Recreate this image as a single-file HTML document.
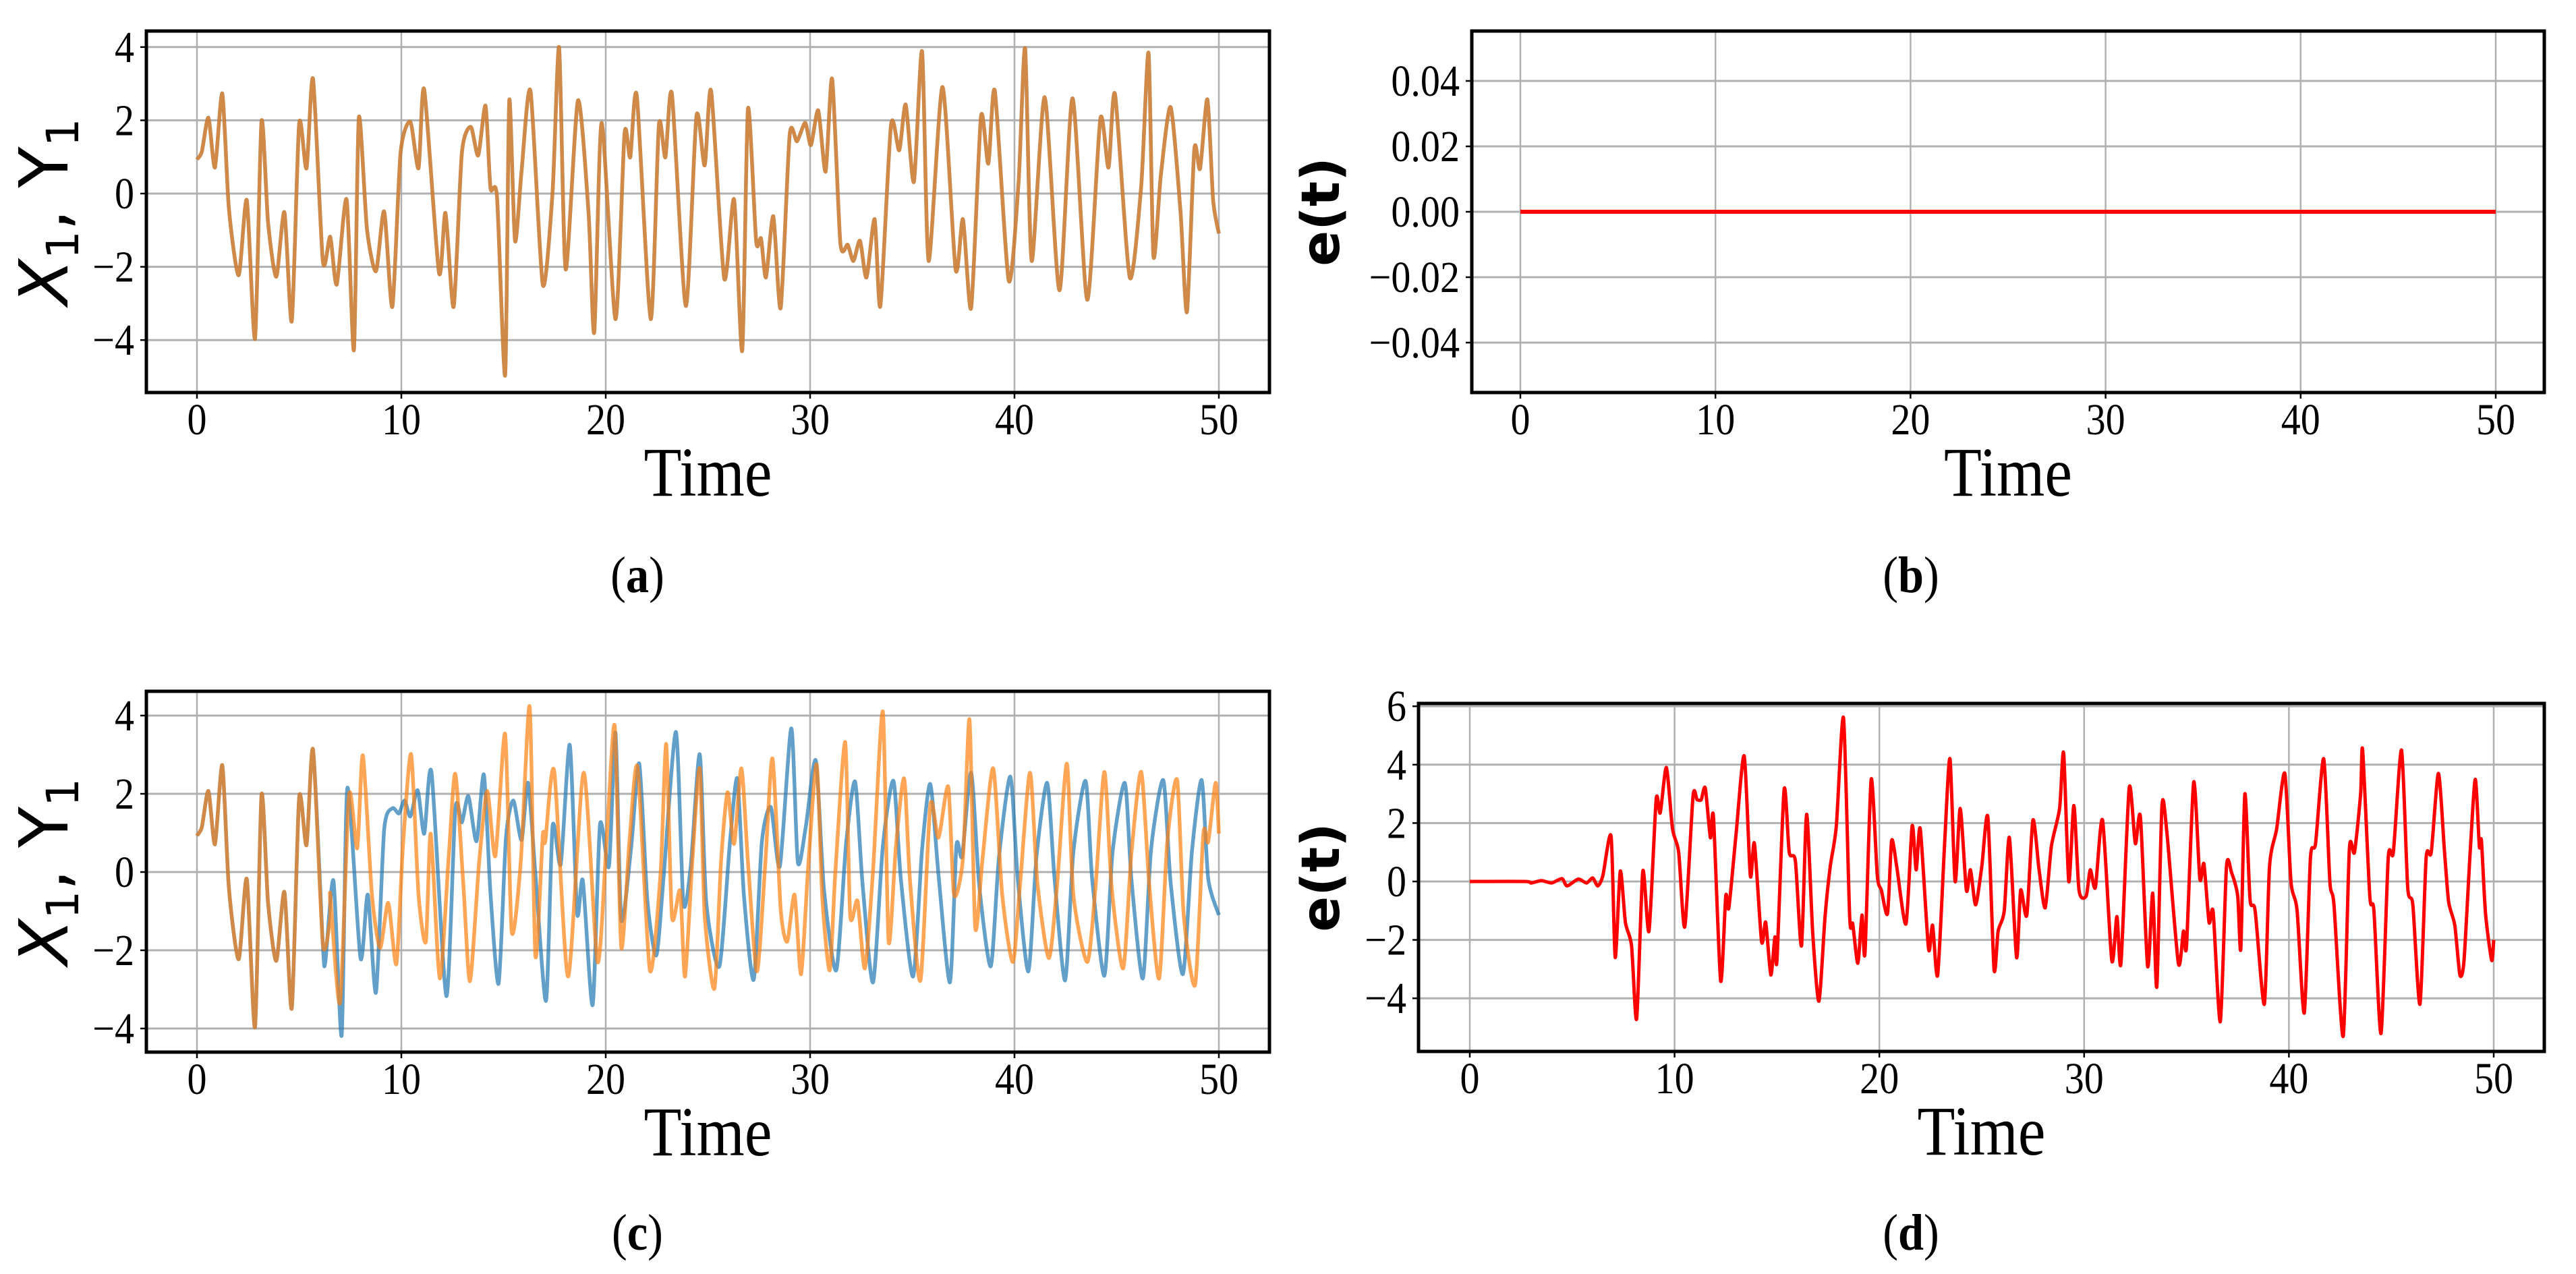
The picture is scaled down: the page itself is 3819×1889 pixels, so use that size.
<!DOCTYPE html>
<html><head><meta charset="utf-8"><style>
html,body{margin:0;padding:0;background:#fff;}
svg{display:block;}
text{font-family:"Liberation Serif",serif;}
</style></head><body>
<svg id="fig" width="3819" height="1889" viewBox="0 0 3819 1889" xmlns="http://www.w3.org/2000/svg"></svg>
<script>
// ---- data ----
const xTicks = [0,10,20,30,40,50];
const yTicksA = [-4,-2,0,2,4];
const yTicksB = [-0.04,-0.02,0,0.02,0.04];
const yTicksB_labels = ["\u22120.04","\u22120.02","0.00","0.02","0.04"];
const yTicksD = [-4,-2,0,2,4,6];

// panel (a): synchronized X1 = Y1
const tA = [0,0.24,0.56,0.88,1.24,1.56,2.04,2.44,2.84,3.16,3.48,3.88,4.28,4.64,5.0,5.36,5.68,6.16,6.52,6.84,7.32,7.68,7.92,8.32,8.76,9.16,9.56,9.96,10.44,10.84,11.12,11.84,12.16,12.56,12.96,13.4,13.76,14.12,14.36,14.68,15.08,15.28,15.56,15.88,16.32,16.92,17.4,17.72,18.04,18.64,19.16,19.44,19.8,20.48,20.92,21.2,21.52,22.2,22.6,22.92,23.24,23.92,24.44,24.84,25.16,25.8,26.28,26.68,26.96,27.36,27.6,27.84,28.2,28.56,29.0,29.36,29.76,30.04,30.4,30.76,31.08,31.48,31.84,32.12,32.44,32.76,33.16,33.44,33.96,34.36,34.68,35.08,35.48,35.8,36.48,37.12,37.48,37.88,38.36,38.72,39.04,39.72,40.2,40.52,40.84,41.48,42.2,42.84,43.56,44.2,44.6,44.92,45.64,46.2,46.56,46.8,47.16,47.64,48.12,48.44,48.8,49.08,49.44,49.72,50];
const vA = [0.93,1.15,2.07,0.71,2.73,-0.4,-2.23,-0.18,-3.96,1.97,-0.79,-2.27,-0.51,-3.48,1.91,0.69,3.13,-1.84,-1.18,-2.48,-0.16,-4.27,2.07,-0.98,-2.12,-0.49,-3.09,1.1,1.96,0.69,2.84,-2.16,-0.53,-3.09,1.1,1.82,1.04,2.4,0.16,-0.09,-4.96,2.54,-1.29,0.6,2.8,-2.49,0.04,3.99,-2.07,2.54,-0.51,-3.79,1.93,-3.43,1.64,0.99,2.67,-3.43,1.87,0.99,2.71,-3.07,2.12,0.77,2.8,-2.32,-0.16,-4.29,2.32,-1.29,-1.23,-2.29,-0.62,-3.12,1.6,1.43,1.93,1.32,2.27,0.6,3.13,-1.34,-1.4,-1.84,-1.29,-2.29,-0.7,-3.07,1.88,1.18,2.43,0.32,3.88,-1.84,2.91,-2.07,-0.7,-3.12,2.1,0.82,2.8,-2.38,0.32,3.96,-1.84,2.63,-2.64,2.6,-2.9,2.04,0.71,2.71,-2.29,0.21,3.84,-1.71,0.49,2.36,-0.46,-3.23,1.21,0.68,2.57,-0.18,-1.09];

// panel (c): X1 (blue) after divergence
const tX = [6.28,6.68,7.08,7.36,8.0,8.36,8.76,9.16,9.56,9.88,10.16,10.44,10.8,11.12,11.48,12.2,12.64,12.96,13.28,13.68,14.04,14.36,14.76,15.12,15.48,15.88,16.2,16.56,17.08,17.4,17.8,18.24,18.6,18.88,19.36,19.72,20.16,20.48,20.76,21.24,21.64,22.04,22.48,22.84,23.44,23.8,24.16,24.6,24.92,25.56,26.08,26.44,26.76,27.24,27.64,28.08,28.52,29.08,29.4,29.8,30.28,30.68,31.28,31.76,32.2,32.56,33.08,33.56,34.08,34.44,35.04,35.48,35.88,36.28,36.84,37.16,37.44,37.88,38.28,38.84,39.24,39.8,40.16,40.68,41.08,41.6,41.96,42.48,42.88,43.48,43.8,44.4,44.8,45.4,45.72,46.28,46.68,47.28,47.64,48.24,48.68,49.16,49.48,50];
const vX = [-2.3,-0.22,-4.18,2.15,-2.2,-0.58,-3.08,1.08,1.63,1.5,1.83,1.42,2.09,0.98,2.54,-3.17,1.6,1.27,1.94,0.79,2.49,-0.53,-2.85,0.88,1.83,0.82,2.28,-0.06,-3.29,1.17,0.2,3.25,-1.05,-0.22,-3.4,1.21,0.15,3.56,-1.21,0.61,2.77,-0.74,-2.13,-0.06,3.58,-0.79,0.15,3.01,-0.79,-2.41,0.77,2.39,-0.58,-2.75,0.77,1.66,0.15,3.67,0.25,1.19,2.85,-0.46,-2.51,0.72,2.31,-0.27,-2.82,0.67,2.33,-0.17,-2.67,0.58,2.25,-0.06,-2.82,0.67,0.41,2.54,-0.37,-2.41,0.38,2.44,-0.17,-2.54,0.41,2.28,-0.17,-2.77,0.51,2.33,-0.17,-2.65,0.51,2.28,-0.17,-2.72,0.56,2.35,-0.27,-2.61,0.51,2.35,-0.17,-1.1];

// panel (c): Y1 (orange) after divergence
const tY = [6.52,7.0,7.44,7.84,8.12,8.56,8.96,9.36,9.76,10.08,10.48,10.84,11.2,11.44,11.88,12.32,12.64,13.04,13.36,13.8,14.2,14.6,15.08,15.4,15.84,16.28,16.56,16.92,17.04,17.48,18.16,18.92,19.6,20.04,20.44,20.76,21.16,21.56,22.16,22.68,22.96,23.24,23.64,23.88,24.24,24.6,24.84,25.32,25.64,25.96,26.28,26.64,26.96,27.4,27.8,28.16,28.56,28.88,29.24,29.56,29.92,30.32,30.6,30.96,31.24,31.72,31.96,32.32,32.68,33.08,33.56,33.84,34.2,34.6,34.88,35.4,35.88,36.28,36.76,37.04,37.48,37.8,38.08,38.44,38.96,39.4,39.92,40.28,40.76,41.12,41.68,42.08,42.56,42.88,43.56,43.96,44.4,44.76,45.32,45.72,46.2,46.6,47.08,47.48,47.96,48.28,48.84,49.24,49.48,49.84,50];
const vY = [-0.58,-3.34,1.97,0.61,2.98,-0.58,-1.94,-0.79,-2.35,0.67,3.01,-0.58,-1.78,0.98,-2.72,0.41,2.51,-0.37,-2.79,0.2,2.07,0.41,3.53,-1.52,0.25,4.23,-2.15,0.93,0.77,2.59,-2.67,2.54,-2.3,0.77,3.74,-1.92,0.77,2.67,-2.51,-0.06,3.27,-1.14,-0.48,-2.67,0.3,2.65,-1.1,-2.98,0.25,2.04,0.72,2.65,0.25,-2.54,0.15,2.9,-0.95,-1.78,-0.58,-2.61,0.25,2.75,-0.69,-2.51,0.04,3.32,-1.1,-0.74,-2.46,0.04,4.1,-1.78,0.67,2.39,-0.17,-2.77,1.71,0.88,2.18,-0.58,0.35,3.9,-1.42,0.35,2.65,-0.58,-2.3,-0.27,2.54,-0.27,-2.2,-0.37,2.77,-0.58,-2.3,-0.42,2.56,-0.42,-2.46,0.46,2.56,-0.37,-2.72,0.79,2.35,-1.1,-2.88,0.98,0.77,2.28,0.98];

// panel (d): error
const tD = [0,2.7,3.0,3.5,4.0,4.5,4.75,5.3,5.7,6.0,6.25,6.5,6.9,7.1,7.35,7.6,7.9,8.15,8.45,8.75,9.1,9.3,9.6,9.9,10.2,10.5,10.9,11.1,11.3,11.5,11.75,11.9,12.25,12.5,12.65,13.0,13.4,13.7,13.9,14.25,14.45,14.7,14.9,15.0,15.35,15.6,15.9,16.2,16.45,16.75,17.05,17.35,17.6,17.9,18.25,18.55,18.7,18.95,19.15,19.3,19.6,19.9,20.1,20.4,20.6,20.85,21.3,21.6,21.8,22.0,22.4,22.6,22.85,23.2,23.45,23.7,23.95,24.25,24.45,24.7,25.0,25.3,25.6,25.8,26.1,26.35,26.7,26.9,27.2,27.5,27.8,28.1,28.4,28.8,29.0,29.25,29.5,29.75,30.1,30.3,30.55,30.9,31.35,31.6,31.8,32.2,32.5,32.75,33.1,33.35,33.55,33.8,34.05,34.6,34.85,35.0,35.35,35.65,35.85,36.1,36.3,36.65,36.95,37.2,37.5,37.65,37.85,38.1,38.35,38.8,39.05,39.4,39.8,40.1,40.4,40.75,41.05,41.3,41.7,42.0,42.2,42.65,42.95,43.2,43.5,43.6,43.95,44.15,44.5,44.85,45.1,45.5,45.8,46.05,46.4,46.7,46.95,47.3,47.6,47.8,48.1,48.35,48.55,48.85,49.1,49.3,49.4,49.6,49.9,50.0];
const vD = [0,0,-0.05,0.03,-0.05,0.1,-0.15,0.08,-0.05,0.12,-0.15,0.2,1.55,-2.6,0.35,-1.4,-2.2,-4.7,0.35,-1.7,2.8,2.35,3.9,1.8,1.0,-1.55,2.9,2.8,2.8,3.2,1.5,2.2,-3.4,-0.5,-0.9,1.6,4.3,0.2,1.3,-2.05,-1.4,-3.2,-1.9,-2.7,3.15,1.0,0.7,-2.2,2.3,-1.8,-4.1,-1.2,0.5,1.9,5.6,-1.2,-1.45,-2.8,-1.15,-2.45,3.5,0.2,-0.3,-1.1,1.4,0.5,-1.45,1.9,0.4,1.8,-2.3,-1.5,-3.2,1.5,4.2,0.0,2.5,-0.3,0.4,-0.8,0.5,2.2,-3.0,-1.7,-1.0,1.5,-2.6,-0.3,-1.15,2.1,0.4,-0.9,1.2,2.5,4.4,0.0,2.6,-0.3,-0.5,0.4,-0.2,2.1,-2.7,-1.2,-2.8,3.2,1.3,2.2,-2.9,-0.4,-3.6,2.6,1.6,-2.8,-1.7,-2.2,3.4,0.1,0.6,-1.4,-1.05,-4.8,0.5,0.3,-0.5,-2.3,3.0,-0.6,-1.0,-4.2,0.5,1.8,3.7,0.0,-1.0,-4.5,0.8,1.3,4.2,0.0,-0.8,-5.3,1.1,1.0,3.0,4.5,-0.5,-1.0,-5.2,0.8,1.0,4.5,-0.2,-0.8,-4.2,0.8,1.0,3.7,1.0,-0.7,-1.5,-3.2,-2.7,1.0,3.5,1.2,1.4,-1.1,-2.7,-2.0];

// ---- drawing ----
const NS = "http://www.w3.org/2000/svg";
const svg = document.getElementById('fig');
function mk(tag, attrs, parent){
  const e = document.createElementNS(NS, tag);
  for (const k in attrs) e.setAttribute(k, attrs[k]);
  (parent||svg).appendChild(e);
  return e;
}
function smoothPath(xs, ys){
  let d = 'M' + xs[0].toFixed(1) + ',' + ys[0].toFixed(1);
  for (let i=0;i<xs.length-1;i++){
    const x0 = xs[Math.max(i-1,0)], y0 = ys[Math.max(i-1,0)];
    const x1 = xs[i], y1 = ys[i], x2 = xs[i+1], y2 = ys[i+1];
    const x3 = xs[Math.min(i+2,xs.length-1)], y3 = ys[Math.min(i+2,ys.length-1)];
    const k = 0.12;
    const c1x = x1 + (x2-x0)*k, c1y = y1 + (y2-y0)*k;
    const c2x = x2 - (x3-x1)*k, c2y = y2 - (y3-y1)*k;
    d += 'C' + c1x.toFixed(1)+','+c1y.toFixed(1)+' '+c2x.toFixed(1)+','+c2y.toFixed(1)+' '+x2.toFixed(1)+','+y2.toFixed(1);
  }
  return d;
}
function panel(cfg){
  const g = mk('g', {});
  
  
  const sx = t => cfg.x0 + (t - 0) / 50 * (cfg.x50 - cfg.x0);
  const sy = v => cfg.yz - v * cfg.ppu;
  xTicks.forEach(t => {
    const l = mk('line', {x1:sx(t), x2:sx(t), y1:cfg.top, y2:cfg.bot, stroke:'#b0b0b0', 'stroke-width':2.5}, g);
    
    
  });
  cfg.yt.forEach(v => {
    const l = mk('line', {x1:cfg.left, x2:cfg.right, y1:sy(v), y2:sy(v), stroke:'#b0b0b0', 'stroke-width':3}, g);
    
    
  });
  cfg.series.forEach(s => {
    const xs = s.t.map(sx), ys = s.v.map(sy);
    const p = mk('path', {d:smoothPath(xs, ys), fill:'none', stroke:s.color, 'stroke-width':s.w||5.5, 'stroke-opacity':s.op||1, 'stroke-linejoin':'round', 'stroke-linecap':'butt'}, g);
    
    
  });
  const r = mk('rect', {x:cfg.left, y:cfg.top, width:cfg.right-cfg.left, height:cfg.bot-cfg.top, fill:'none', stroke:'#000', 'stroke-width':5}, g);
  
  
  xTicks.forEach(t => {
    mk('line', {x1:sx(t), x2:sx(t), y1:cfg.bot, y2:cfg.bot+9, stroke:'#000', 'stroke-width':2.5}, g);
    const tx = mk('text', {x:0, y:0, 'text-anchor':'middle', 'font-size':66, transform:'translate('+sx(t)+','+(cfg.bot+62)+') scale(0.88,1)'}, g);
    
    
    tx.textContent = String(t);
  });
  cfg.yt.forEach((v,i) => {
    mk('line', {x1:cfg.left-9, x2:cfg.left, y1:sy(v), y2:sy(v), stroke:'#000', 'stroke-width':2.5}, g);
    const tx = mk('text', {x:0, y:0, 'text-anchor':'end', 'font-size':66, transform:'translate('+(cfg.left-18)+','+(sy(v)+22)+') scale(0.88,1)'}, g);
    
    
    tx.textContent = cfg.ylab ? cfg.ylab[i] : (v<0 ? '\u2212'+Math.abs(v) : String(v));
  });
  const xl = mk('text', {x:0, y:0, 'text-anchor':'middle', 'font-size':104, transform:'translate('+((cfg.left+cfg.right)/2)+','+(cfg.bot+153)+') scale(0.88,1)'}, g);
  
  
  xl.textContent = 'Time';
  const yl = mk('text', {x:0, y:0, 'text-anchor':'middle', transform:'translate('+cfg.ylx+','+((cfg.top+cfg.bot)/2)+') rotate(-90)', 'font-size':cfg.ylfs, 'font-weight':cfg.ylbold?'bold':'normal', style:'font-family:"DejaVu Sans",sans-serif;'+(cfg.ylit?'font-style:italic;':'')}, g);
  
  
  yl.innerHTML = cfg.ylHTML;
  const cap = mk('text', {x:0, y:0, 'text-anchor':'middle', 'font-size':76, transform:'translate('+cfg.capx+','+cfg.capy+') scale(0.9,1)'}, g);
  
  
  cap.innerHTML = '(<tspan font-weight="bold">'+cfg.cap+'</tspan>)';
}
const XY = '<tspan>X</tspan><tspan font-size="66" font-style="normal" dy="16">1</tspan><tspan dy="-16" font-style="normal">, Y</tspan><tspan font-size="66" font-style="normal" dy="16">1</tspan>';
const ORA = '#ff7f0e', BLU = '#1f77b4';
panel({name:'panel-a', left:217, right:1882, top:46, bot:582, x0:292, x50:1807, yz:287, ppu:54.3, yt:yTicksA,
  series:[{t:tA,v:vA,color:BLU,op:0.7,name:'x1-line'},{t:tA,v:vA,color:ORA,op:0.7,name:'y1-line'}],
  ylx:100, ylfs:100, ylit:true, ylHTML:XY, cap:'a', capx:945, capy:878});
panel({name:'panel-b', left:2182, right:3772, top:46, bot:582, x0:2254, x50:3700, yz:314, ppu:4850, yt:yTicksB, ylab:yTicksB_labels,
  series:[{t:[0,50],v:[0,0],color:'#ff0000',w:6,name:'error-line'}],
  ylx:1985, ylfs:78, ylbold:true, ylHTML:'e(t)', cap:'b', capx:2833, capy:878});
panel({name:'panel-c', left:217, right:1882, top:1025, bot:1560, x0:292, x50:1807, yz:1293, ppu:58, yt:yTicksA,
  series:[{t:tA.slice(0,18).concat(tX),v:vA.slice(0,18).concat(vX),color:BLU,op:0.7,name:'x1-line'},
          {t:tA.slice(0,19).concat(tY),v:vA.slice(0,19).concat(vY),color:ORA,op:0.7,name:'y1-line'}],
  ylx:100, ylfs:100, ylit:true, ylHTML:XY, cap:'c', capx:945, capy:1853});
panel({name:'panel-d', left:2103, right:3772, top:1043, bot:1559, x0:2179, x50:3697, yz:1307, ppu:43.3, yt:yTicksD,
  series:[{t:tD,v:vD,color:'#ff0000',w:5,name:'error-line'}],
  ylx:1985, ylfs:78, ylbold:true, ylHTML:'e(t)', cap:'d', capx:2833, capy:1853});
</script>
</body></html>
